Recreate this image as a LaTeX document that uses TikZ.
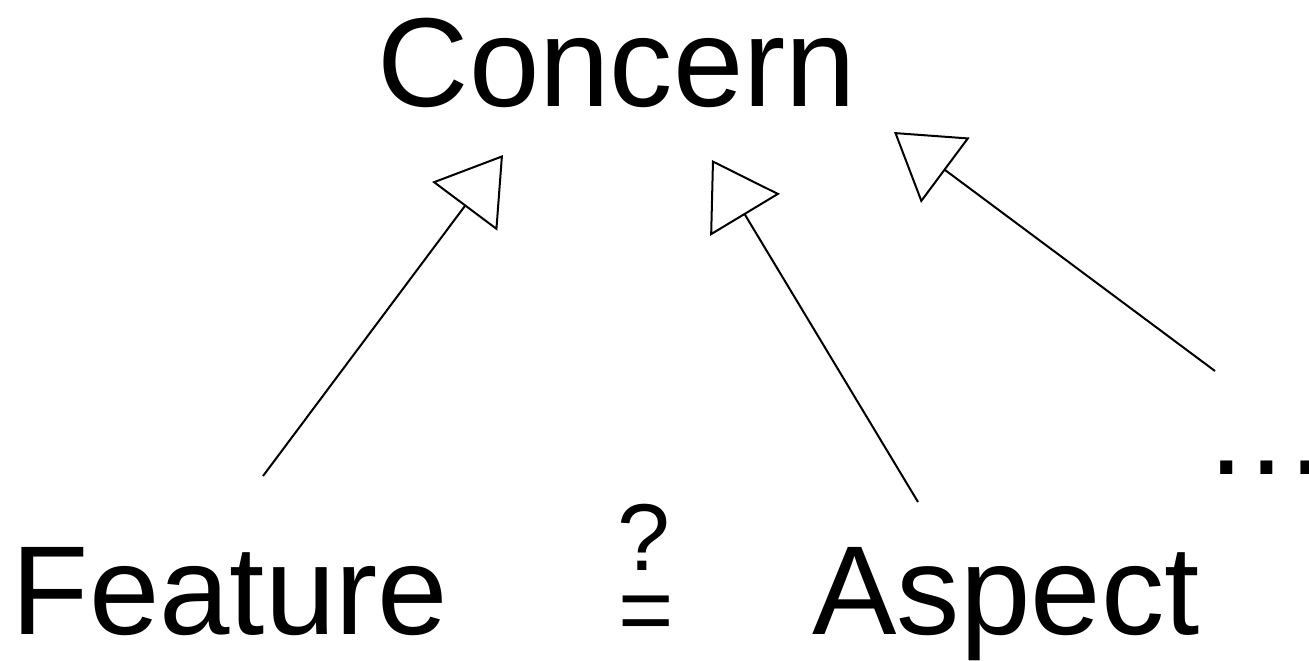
\documentclass[tikz,border=0pt]{standalone}
\usepackage{fontspec}
\setmainfont{Liberation Sans}
\usetikzlibrary{arrows.meta}

\begin{document}
\begin{tikzpicture}[
    x=0.01cm, y=-0.01cm,
    >={Triangle[open, length=0.64cm, width=0.81cm]},
    line width=0.02cm,
    big word/.style={inner sep=0pt, font=\fontsize{36}{43}\selectfont},
    small word/.style={inner sep=0pt, font=\fontsize{27}{32}\selectfont},
    generalization/.style={->, black}
]
\useasboundingbox (0,0) rectangle (1309,660);

% Parent concept
\node[big word, anchor=base] (concern) at (617,106) {Concern};

% Specialised concepts
\node[big word, anchor=base] (feature) at (230,634) {Feature};
\node[big word, anchor=base] (aspect) at (1006,634) {Aspect};
\node[big word, anchor=base west] (more) at (1202,474) {…};

% Equality question between feature and aspect
\node[small word, anchor=base] (question) at (644,570) {?};
\node[small word, anchor=base] (equals) at (646,642) {=};

% Line ends (arrows stop short of the words)
\coordinate (feature end) at (263,476);
\coordinate (aspect end)  at (918,502);
\coordinate (more end)    at (1215,371);
\coordinate (concern left)   at (503,155);
\coordinate (concern middle) at (712,160);
\coordinate (concern right)  at (894,132);

% Generalization arrows
\draw[generalization] (feature end) -- (concern left);
\draw[generalization] (aspect end) -- (concern middle);
\draw[generalization] (more end) -- (concern right);

\end{tikzpicture}
\end{document}
